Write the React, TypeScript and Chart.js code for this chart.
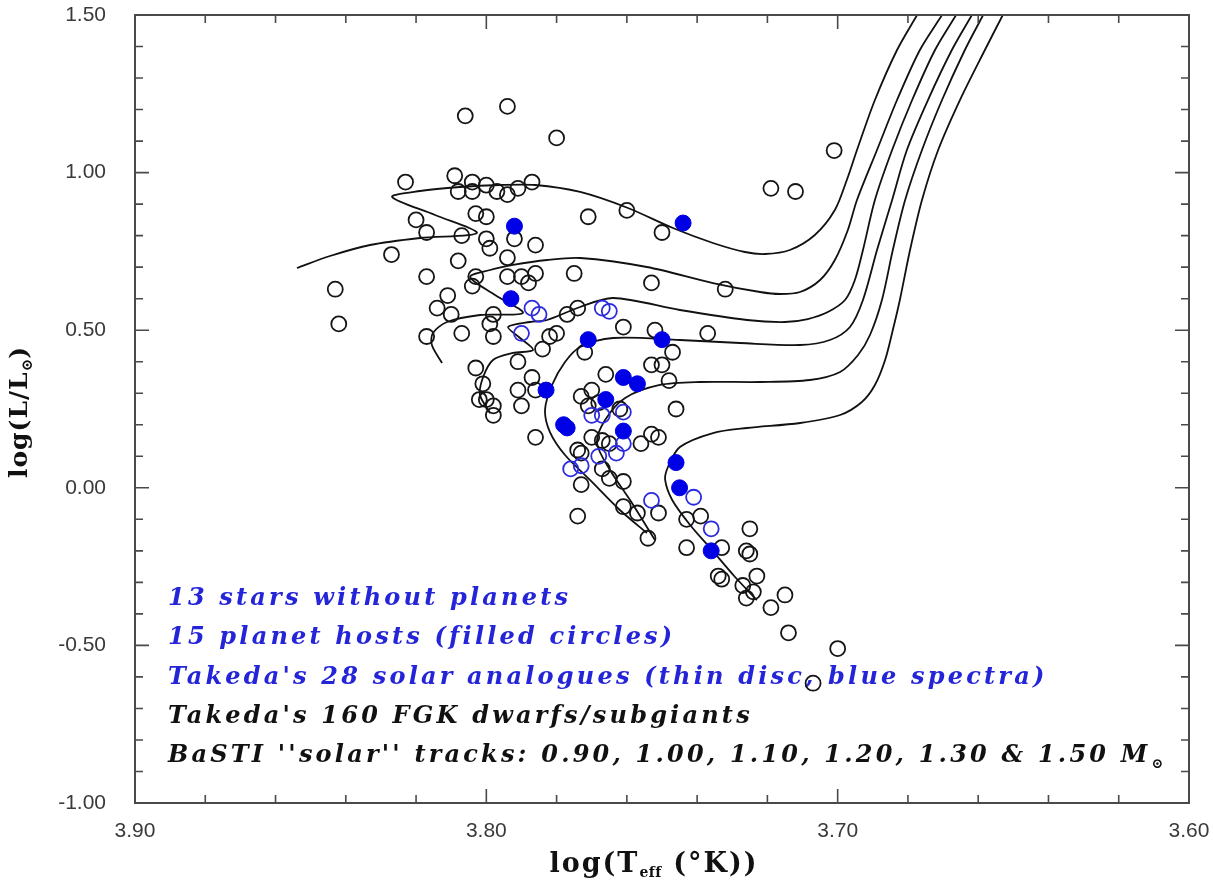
import React, { useEffect, useRef } from "react";
import { Chart, registerables } from "chart.js";

Chart.register(...registerables);

// ---------- axes ----------
const xMin = 3.6;
const xMax = 3.9;
const yMin = -1.0;
const yMax = 1.5;
const xMajorStep = 0.1;
const yMajorStep = 0.5;
const xMinorStep = 0.02;
const yMinorStep = 0.1;

// ---------- Takeda's FGK dwarfs/subgiants (black open circles) ----------
const takedaT = [
  3.806, 3.794, 3.780, 3.823, 3.809, 3.808, 3.804, 3.804, 3.800, 3.797,
  3.794, 3.791, 3.787, 3.719, 3.803, 3.800, 3.820, 3.817, 3.807, 3.771,
  3.760, 3.750, 3.792, 3.786, 3.800, 3.799, 3.827, 3.808, 3.794, 3.817,
  3.803, 3.804, 3.794, 3.790, 3.786, 3.788, 3.775, 3.753, 3.732, 3.811,
  3.814, 3.810, 3.774, 3.761, 3.798, 3.799, 3.798, 3.807, 3.817, 3.777,
  3.782, 3.780, 3.784, 3.772, 3.752, 3.737, 3.747, 3.753, 3.750, 3.803,
  3.791, 3.787, 3.766, 3.748, 3.801, 3.802, 3.800, 3.798, 3.798, 3.791,
  3.790, 3.786, 3.786, 3.773, 3.770, 3.746, 3.771, 3.768, 3.762, 3.770,
  3.767, 3.765, 3.756, 3.753, 3.751, 3.774, 3.773, 3.767, 3.765, 3.761,
  3.773, 3.774, 3.761, 3.757, 3.754, 3.751, 3.743, 3.739, 3.743, 3.733,
  3.725, 3.726, 3.725, 3.734, 3.733, 3.727, 3.723, 3.724, 3.726, 3.719,
  3.715, 3.714, 3.700, 3.707, 3.843, 3.842, 3.701, 3.712,
];
const takedaL = [
  1.18, 1.21, 1.11, 0.97, 0.99, 0.94, 0.97, 0.94, 0.96, 0.94,
  0.93, 0.95, 0.97, 0.95, 0.87, 0.86, 0.85, 0.81, 0.80, 0.86,
  0.88, 0.81, 0.79, 0.77, 0.79, 0.76, 0.74, 0.72, 0.73, 0.67,
  0.67, 0.64, 0.67, 0.67, 0.68, 0.65, 0.68, 0.65, 0.63, 0.61,
  0.57, 0.55, 0.57, 0.51, 0.55, 0.52, 0.48, 0.49, 0.48, 0.55,
  0.48, 0.49, 0.44, 0.43, 0.50, 0.49, 0.43, 0.39, 0.39, 0.38,
  0.40, 0.35, 0.36, 0.34, 0.33, 0.28, 0.28, 0.26, 0.23, 0.31,
  0.26, 0.31, 0.16, 0.29, 0.31, 0.25, 0.26, 0.27, 0.25, 0.16,
  0.15, 0.14, 0.14, 0.17, 0.16, 0.12, 0.11, 0.06, 0.03, 0.02,
  0.01, -0.09, -0.06, -0.08, -0.16, -0.08, -0.10, -0.09, -0.19, -0.19,
  -0.13, -0.20, -0.21, -0.28, -0.29, -0.31, -0.28, -0.33, -0.35, -0.38,
  -0.34, -0.46, -0.51, -0.62, 0.63, 0.52, 1.07, 0.94,
];

// ---------- solar analogues without planets (blue open) ----------
const noPlanetT = [
  3.787, 3.785, 3.790, 3.767, 3.765, 3.761, 3.770, 3.767, 3.761, 3.763,
  3.768, 3.776, 3.773, 3.753, 3.741, 3.736,
];
const noPlanetL = [
  0.57, 0.55, 0.49, 0.57, 0.56, 0.24, 0.23, 0.23, 0.14, 0.11,
  0.10, 0.06, 0.07, -0.04, -0.03, -0.13,
];

// ---------- planet hosts (blue filled) ----------
const hostT = [
  3.744, 3.792, 3.793, 3.771, 3.750, 3.761, 3.757, 3.783, 3.766, 3.778,
  3.777, 3.761, 3.746, 3.745, 3.736,
];
const hostL = [
  0.84, 0.83, 0.60, 0.47, 0.47, 0.35, 0.33, 0.31, 0.28, 0.20,
  0.19, 0.18, 0.08, 0.00, -0.20,
];

// ---------- BaSTI solar tracks ----------
const track150T = [3.8539, 3.8445, 3.8331, 3.8189, 3.8027, 3.8146, 3.8268, 3.8189, 3.8075, 3.7961, 3.7861, 3.7733, 3.7597, 3.7469, 3.7355, 3.7264, 3.7207, 3.7136, 3.7065, 3.7008, 3.6974, 3.6945, 3.6894, 3.6831, 3.6774];
const track150L = [0.6973, 0.7354, 0.7703, 0.7925, 0.8084, 0.8655, 0.9226, 0.9416, 0.9543, 0.9607, 0.9607, 0.9385, 0.8877, 0.8242, 0.7767, 0.7481, 0.7418, 0.7544, 0.8020, 0.8813, 0.9765, 1.0717, 1.2303, 1.3890, 1.5000];

const track130T = [3.8126, 3.8155, 3.8152, 3.8112, 3.8018, 3.7896, 3.7975, 3.8046, 3.7989, 3.7924, 3.7827, 3.7733, 3.7543, 3.7355, 3.7221, 3.7164, 3.7107, 3.7050, 3.7008, 3.6971, 3.6945, 3.6888, 3.6831, 3.6766, 3.6703];
const track130L = [0.3959, 0.4530, 0.4911, 0.5260, 0.5482, 0.5546, 0.6117, 0.6688, 0.6910, 0.7069, 0.7227, 0.7291, 0.7005, 0.6497, 0.6212, 0.6149, 0.6212, 0.6593, 0.7227, 0.8179, 0.9131, 1.0717, 1.2303, 1.3890, 1.5000];

const track120T = [3.7989, 3.8018, 3.8009, 3.7981, 3.7924, 3.7867, 3.7904, 3.7938, 3.7876, 3.7827, 3.7733, 3.7639, 3.7449, 3.7258, 3.7150, 3.7085, 3.7028, 3.6979, 3.6951, 3.6928, 3.6894, 3.6845, 3.6788, 3.6723, 3.6663];
const track120L = [0.2373, 0.2944, 0.3515, 0.4055, 0.4277, 0.4372, 0.4753, 0.5102, 0.5260, 0.5324, 0.5736, 0.6022, 0.5641, 0.5324, 0.5260, 0.5355, 0.5577, 0.5958, 0.6593, 0.7544, 0.9131, 1.0717, 1.2303, 1.3890, 1.5000];

const track110T = [3.7543, 3.7620, 3.7705, 3.7776, 3.7819, 3.7833, 3.7813, 3.7776, 3.7733, 3.7639, 3.7449, 3.7278, 3.7107, 3.7022, 3.6965, 3.6928, 3.6888, 3.6845, 3.6803, 3.6743, 3.6675, 3.6618];
const track110L = [-0.1434, -0.0704, 0.0248, 0.1041, 0.1770, 0.2468, 0.3262, 0.3991, 0.4467, 0.4753, 0.4689, 0.4594, 0.4530, 0.4689, 0.5102, 0.5958, 0.7544, 0.9131, 1.0717, 1.2303, 1.3890, 1.5000];

const track100T = [3.7520, 3.7591, 3.7648, 3.7685, 3.7662, 3.7605, 3.7506, 3.7392, 3.7221, 3.7079, 3.6993, 3.6942, 3.6908, 3.6874, 3.6843, 3.6808, 3.6760, 3.6703, 3.6638, 3.6586];
const track100L = [-0.1656, -0.0387, 0.0565, 0.1421, 0.2151, 0.2849, 0.3262, 0.3357, 0.3357, 0.3420, 0.3674, 0.4213, 0.4848, 0.5958, 0.7544, 0.9131, 1.0717, 1.2303, 1.3890, 1.5000];

const track090T = [3.7230, 3.7292, 3.7358, 3.7420, 3.7471, 3.7491, 3.7483, 3.7449, 3.7355, 3.7258, 3.7107, 3.6993, 3.6931, 3.6894, 3.6865, 3.6843, 3.6823, 3.6794, 3.6760, 3.6714, 3.6652, 3.6581, 3.6530];
const track090L = [-0.3560, -0.2830, -0.1973, -0.1180, -0.0387, 0.0248, 0.0660, 0.1294, 0.1738, 0.1897, 0.2056, 0.2310, 0.2722, 0.3261, 0.4055, 0.5006, 0.5958, 0.7544, 0.9131, 1.0717, 1.2303, 1.3890, 1.5000];

// ---------- legend text ----------
const legendLines = [
  { text: "13 stars without planets", color: "#2424d8" },
  { text: "15 planet hosts (filled circles)", color: "#2424d8" },
  { text: "Takeda's 28 solar analogues (thin disc, blue spectra)", color: "#2424d8" },
  { text: "Takeda's 160 FGK dwarfs/subgiants", color: "#111111" },
  { text: "BaSTI ''solar'' tracks: 0.90, 1.00, 1.10, 1.20, 1.30 & 1.50 M", color: "#111111", sub: "\u2299" },
];

const zip = (xs: number[], ys: number[]) => xs.map((x, i) => ({ x, y: ys[i] }));

const tracks = [
  [track150T, track150L],
  [track130T, track130L],
  [track120T, track120L],
  [track110T, track110L],
  [track100T, track100L],
  [track090T, track090L],
];

const SERIF = '"DejaVu Serif", "Liberation Serif", serif';

function drawPieces(ctx: any, pieces: { t: string; font: string; dy: number; ls: number }[], cx: number, base: number) {
  const widths = pieces.map((p) => {
    ctx.font = p.font;
    ctx.letterSpacing = `${p.ls}px`;
    return ctx.measureText(p.t).width;
  });
  const total = widths.reduce((s, w) => s + w, 0);
  let sx = cx - total / 2;
  pieces.forEach((p, i) => {
    ctx.font = p.font;
    ctx.letterSpacing = `${p.ls}px`;
    ctx.fillText(p.t, sx, base + p.dy);
    sx += widths[i];
  });
  ctx.letterSpacing = "0px";
}

const framePlugin = {
  id: "frameTicks",
  afterDraw(chart: any) {
    const { ctx, chartArea: a, scales } = chart;
    const x = scales.x;
    const y = scales.y;
    ctx.save();
    ctx.strokeStyle = "#4a4a4a";
    ctx.lineWidth = 2;
    ctx.strokeRect(a.left, a.top, a.right - a.left, a.bottom - a.top);
    ctx.lineWidth = 1.6;
    ctx.beginPath();
    const nx = Math.round((xMax - xMin) / xMinorStep);
    const perMajorX = Math.round(xMajorStep / xMinorStep);
    for (let i = 0; i <= nx; i++) {
      const px = x.getPixelForValue(xMin + i * xMinorStep);
      const len = i % perMajorX === 0 ? 14 : 8;
      ctx.moveTo(px, a.bottom);
      ctx.lineTo(px, a.bottom - len);
      ctx.moveTo(px, a.top);
      ctx.lineTo(px, a.top + len);
    }
    const ny = Math.round((yMax - yMin) / yMinorStep);
    const perMajorY = Math.round(yMajorStep / yMinorStep);
    for (let i = 0; i <= ny; i++) {
      const py = y.getPixelForValue(yMin + i * yMinorStep);
      const len = i % perMajorY === 0 ? 14 : 8;
      ctx.moveTo(a.left, py);
      ctx.lineTo(a.left + len, py);
      ctx.moveTo(a.right, py);
      ctx.lineTo(a.right - len, py);
    }
    ctx.stroke();

    ctx.fillStyle = "#111";
    ctx.textBaseline = "alphabetic";
    ctx.textAlign = "left";
    // x title
    drawPieces(
      ctx,
      [
        { t: "log(T", font: `bold 27px ${SERIF}`, dy: 0, ls: 2 },
        { t: "eff", font: `bold 14px ${SERIF}`, dy: 5, ls: 0.5 },
        { t: " (\u00b0K))", font: `bold 27px ${SERIF}`, dy: 0, ls: 2 },
      ],
      (a.left + a.right) / 2 - 8,
      a.bottom + 69
    );
    // y title
    ctx.save();
    ctx.translate(27, (a.top + a.bottom) / 2 + 3);
    ctx.rotate(-Math.PI / 2);
    drawPieces(
      ctx,
      [
        { t: "log(L/L", font: `bold 25px ${SERIF}`, dy: 0, ls: 1 },
        { t: "\u2299", font: `bold 15px ${SERIF}`, dy: 5, ls: 0 },
        { t: ")", font: `bold 25px ${SERIF}`, dy: 0, ls: 1 },
      ],
      0,
      0
    );
    ctx.restore();
    ctx.restore();
  },
};

const legendPlugin = {
  id: "textLegend",
  beforeDatasetsDraw(chart: any) {
    const { ctx, chartArea: a } = chart;
    ctx.save();
    ctx.textAlign = "left";
    ctx.textBaseline = "alphabetic";
    const startX = a.left + 33;
    const firstBase = a.bottom - 198;
    legendLines.forEach((ln, i) => {
      ctx.font = `italic bold 24px ${SERIF}`;
      ctx.letterSpacing = "3.2px";
      ctx.fillStyle = ln.color;
      const by = firstBase + i * 39.3;
      ctx.fillText(ln.text, startX, by);
      if (ln.sub) {
        const w = ctx.measureText(ln.text).width;
        ctx.font = `bold 14px ${SERIF}`;
        ctx.letterSpacing = "0px";
        ctx.fillText(ln.sub, startX + w + 1, by + 6);
      }
    });
    ctx.letterSpacing = "0px";
    ctx.restore();
  },
};

export default function App() {
  const ref = useRef<HTMLCanvasElement | null>(null);
  useEffect(() => {
    if (!ref.current) return;
    const trackSets = tracks.map(([t, l]) => ({
      type: "line" as const,
      data: zip(t, l),
      borderColor: "#111",
      borderWidth: 1.8,
      pointRadius: 0,
      showLine: true,
      fill: false,
      tension: 0.3,
      order: 10,
    }));
    const chart = new Chart(ref.current, {
      type: "scatter",
      data: {
        datasets: [
          ...trackSets,
          {
            data: zip(takedaT, takedaL),
            pointRadius: 7.5,
            pointBorderWidth: 1.8,
            borderColor: "#151515",
            backgroundColor: "rgba(0,0,0,0)",
            order: 5,
          } as any,
          {
            data: zip(noPlanetT, noPlanetL),
            pointRadius: 7.5,
            pointBorderWidth: 1.8,
            borderColor: "#2a2ae0",
            backgroundColor: "rgba(0,0,0,0)",
            order: 3,
          },
          {
            data: zip(hostT, hostL),
            pointRadius: 8,
            pointBorderWidth: 1,
            borderColor: "#0000e6",
            backgroundColor: "#0000e6",
            order: 1,
          },
        ],
      },
      options: {
        responsive: false,
        animation: false,
        layout: { padding: { left: 0, right: 24, top: 15, bottom: 0 } },
        plugins: { legend: { display: false }, tooltip: { enabled: false } },
        scales: {
          x: {
            type: "linear",
            min: xMin,
            max: xMax,
            reverse: true,
            grid: { display: false },
            border: { display: false },
            ticks: {
              stepSize: xMajorStep,
              padding: 8,
              color: "#3a3a3a",
              font: { family: '"Liberation Sans", Arial, sans-serif', size: 21 },
              callback: (v: any) => Number(v).toFixed(2),
            },
            afterFit: (s: any) => {
              s.height = 78;
              s.paddingLeft = 0;
              s.paddingRight = 0;
              s.paddingTop = 0;
              s.paddingBottom = 0;
            },
          },
          y: {
            type: "linear",
            min: yMin,
            max: yMax,
            grid: { display: false },
            border: { display: false },
            ticks: {
              stepSize: yMajorStep,
              padding: 21,
              color: "#3a3a3a",
              font: { family: '"Liberation Sans", Arial, sans-serif', size: 21 },
              callback: (v: any) => Number(v).toFixed(2),
            },
            afterFit: (s: any) => {
              s.width = 135;
              s.paddingLeft = 0;
              s.paddingRight = 0;
              s.paddingTop = 0;
              s.paddingBottom = 0;
            },
          },
        },
      },
      plugins: [legendPlugin, framePlugin],
    });
    return () => chart.destroy();
  }, []);
  return (
    <div style={{ position: "fixed", left: 0, top: 0, width: 1213, height: 881, background: "#fff" }}>
      <canvas ref={ref} width={1213} height={881} style={{ display: "block" }} />
    </div>
  );
}
